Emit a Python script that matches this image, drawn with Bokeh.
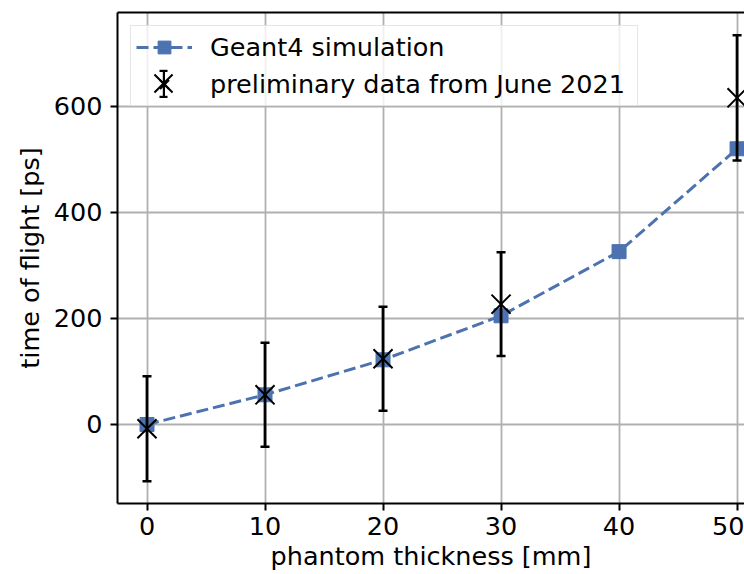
import numpy as np
from bokeh.plotting import figure
from bokeh.models import Range1d, FixedTicker, LinearAxis, Legend, LegendItem
from bokeh.embed import file_html
from bokeh.resources import INLINE

# ---- data ----
thickness_sim = [0, 10, 20, 30, 40, 50]
tof_sim = [0, 56, 122, 205, 326, 520]
thickness_data = [0, 10, 20, 30, 50]
tof_data = [-8, 56, 124, 227, 616]
tof_err = [99, 98, 98, 98, 118]
x_ticks = [0, 10, 20, 30, 40, 50]
y_ticks = [0, 200, 400, 600]
sim_label = "Geant4 simulation"
data_label = "preliminary data from June 2021"
x_title = "phantom thickness [mm]"
y_title = "time of flight [ps]"

BLUE = "#4c72b0"
FONT = "DejaVu Sans"
FS = "25.5px"

lower = [v - e for v, e in zip(tof_data, tof_err)]
upper = [v + e for v, e in zip(tof_data, tof_err)]

p = figure(width=744, height=574, output_backend="svg", toolbar_location=None,
           x_range=Range1d(-2.5, 50.63), y_range=Range1d(-149, 777),
           min_border_left=117, min_border_right=0, min_border_top=12, min_border_bottom=71)
p.outline_line_color = None
p.background_fill_color = "white"
p.border_fill_color = "white"

for ax, ticks, title in [(p.xaxis[0], x_ticks, x_title), (p.yaxis[0], y_ticks, y_title)]:
    ax.ticker = FixedTicker(ticks=ticks)
    ax.axis_label = title
    ax.axis_line_width = 2
    ax.axis_line_color = "black"
    ax.major_tick_line_width = 2
    ax.major_tick_line_color = "black"
    ax.major_tick_out = 7
    ax.major_tick_in = 0
    ax.minor_tick_line_color = None
    ax.major_label_text_font = FONT
    ax.major_label_text_font_size = FS
    ax.major_label_text_color = "black"
    ax.axis_label_text_font = FONT
    ax.axis_label_text_font_size = FS
    ax.axis_label_text_font_style = "normal"
    ax.axis_label_text_color = "black"

p.xaxis[0].major_label_standoff = 6
p.xaxis[0].axis_label_standoff = 3
p.yaxis[0].major_label_standoff = 8
p.yaxis[0].axis_label_standoff = 6

top_axis = LinearAxis(ticker=FixedTicker(ticks=[]), axis_line_width=2, axis_line_color="black",
                      major_tick_in=0, major_tick_out=0, minor_tick_in=0, minor_tick_out=0,
                      major_label_text_font_size="0px", major_label_standoff=0)
p.add_layout(top_axis, "above")

p.xgrid.ticker = FixedTicker(ticks=x_ticks)
p.ygrid.ticker = FixedTicker(ticks=y_ticks)
p.grid.grid_line_color = "#b0b0b0"
p.grid.grid_line_width = 1.8

# simulation
p.line(thickness_sim, tof_sim, line_color=BLUE, line_width=3, line_dash="12 5",
       legend_label=sim_label)
p.scatter(thickness_sim, tof_sim, marker="square", size=14, fill_color=BLUE,
          line_color=BLUE, legend_label=sim_label)

# data with error bars
p.segment(x0=thickness_data, y0=lower, x1=thickness_data, y1=upper,
          line_color="black", line_width=2.8)
p.scatter(thickness_data, lower, marker="dash", size=9, line_color="black", line_width=2.5)
p.scatter(thickness_data, upper, marker="dash", size=9, line_color="black", line_width=2.5)
x_r = p.scatter(thickness_data, tof_data, marker="x", size=27, line_color="black", line_width=2,
                legend_label=data_label)

leg = p.legend[0]
leg.location = "top_left"
leg.margin = 13
leg.padding = 5
leg.spacing = 5
leg.glyph_width = 56
leg.glyph_height = 32
leg.label_standoff = 18
leg.label_width = 422
leg.label_text_font = FONT
leg.label_text_font_size = FS
leg.label_text_color = "black"
leg.border_line_color = "#cccccc"
leg.border_line_width = 1.5
leg.background_fill_color = "white"
leg.background_fill_alpha = 0.8

# legend-only glyph pieces for the error-bar handle
bar_r = p.vbar(x=[float("nan")], top=[float("nan")], width=1, fill_color="black", line_color=None)

common = dict(padding=0, margin=0, label_standoff=0, label_width=0, label_height=0,
              label_text_font_size="1px", border_line_color=None, background_fill_alpha=0)

legB = Legend(items=[LegendItem(label=" ", renderers=[bar_r])], location=(44.5, 404),
              spacing=0, glyph_width=3, glyph_height=32, **common)
p.add_layout(legB)

legC = Legend(items=[LegendItem(label=" ", renderers=[bar_r]), LegendItem(label="  ", renderers=[bar_r])],
              location=(41, 405.3), spacing=23, glyph_width=10, glyph_height=3, **common)
p.add_layout(legC)

legD = Legend(items=[LegendItem(label=" ", renderers=[x_r])], location=(14, 388),
              spacing=0, glyph_width=64, glyph_height=64, **common)
p.add_layout(legD)

open("out.html", "w").write(file_html(p, INLINE))
